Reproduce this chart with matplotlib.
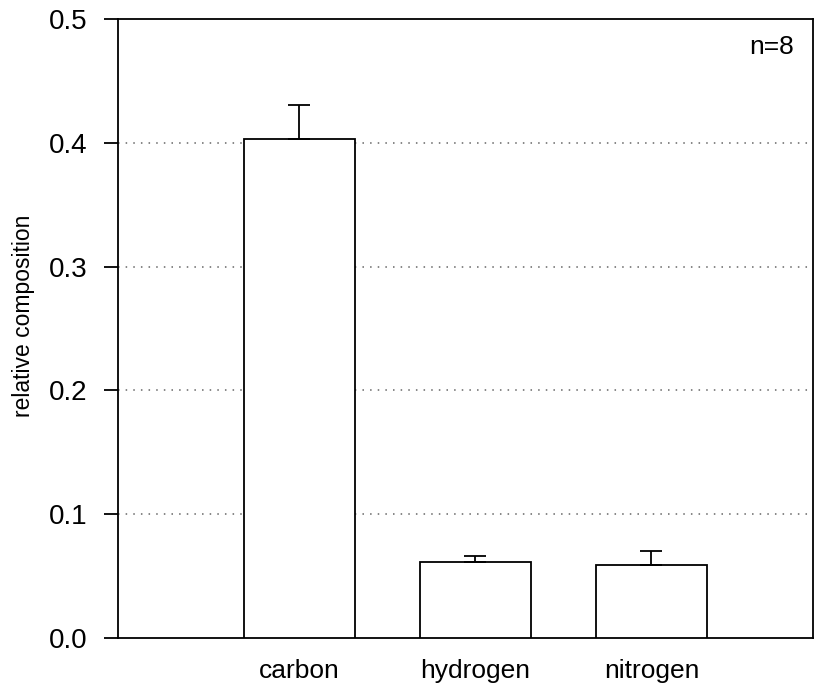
import numpy as np
import matplotlib.pyplot as plt

plt.rcParams['font.family'] = ['Liberation Sans', 'DejaVu Sans']

# values
elements = ['carbon', 'hydrogen', 'nitrogen']
composition = [0.403, 0.061, 0.059]
errors = [0.028, 0.005, 0.011]
yticks = [0.0, 0.1, 0.2, 0.3, 0.4, 0.5]

fig = plt.figure(figsize=(8.2, 6.85), dpi=100)
ax = fig.add_axes([0.144, 0.069, 0.848, 0.903])

x = np.arange(len(elements))
ax.bar(x, composition, width=0.63, color='white', edgecolor='black',
       linewidth=1.3, zorder=3)
ax.errorbar(x, composition, yerr=[np.zeros(len(errors)), errors], fmt='none',
            ecolor='black', elinewidth=1.3, capsize=8, capthick=1.3, zorder=4)

ax.set_xlim(-1.03, 2.92)
ax.set_ylim(0, 0.5)
ax.set_yticks(yticks)
ax.set_yticklabels(['%.1f' % v for v in yticks], fontsize=20)
ax.set_xticks(x)
ax.set_xticklabels(elements, fontsize=19)
ax.tick_params(axis='x', length=0, pad=15)
ax.tick_params(axis='y', direction='out', length=10, width=1.3, pad=12)

for v in yticks[1:-1]:
    ax.axhline(v, color='#666666', linestyle=(0, (1, 4)), linewidth=1.1, zorder=1)

for s in ax.spines.values():
    s.set_linewidth(1.3)

ax.set_ylabel('relative composition', fontsize=16.5)
ax.yaxis.set_label_coords(-0.12, 0.52)
ax.text(0.94, 0.955, 'n=8', transform=ax.transAxes, fontsize=19,
        ha='center', va='center')

fig.savefig('out.png', dpi=100)
